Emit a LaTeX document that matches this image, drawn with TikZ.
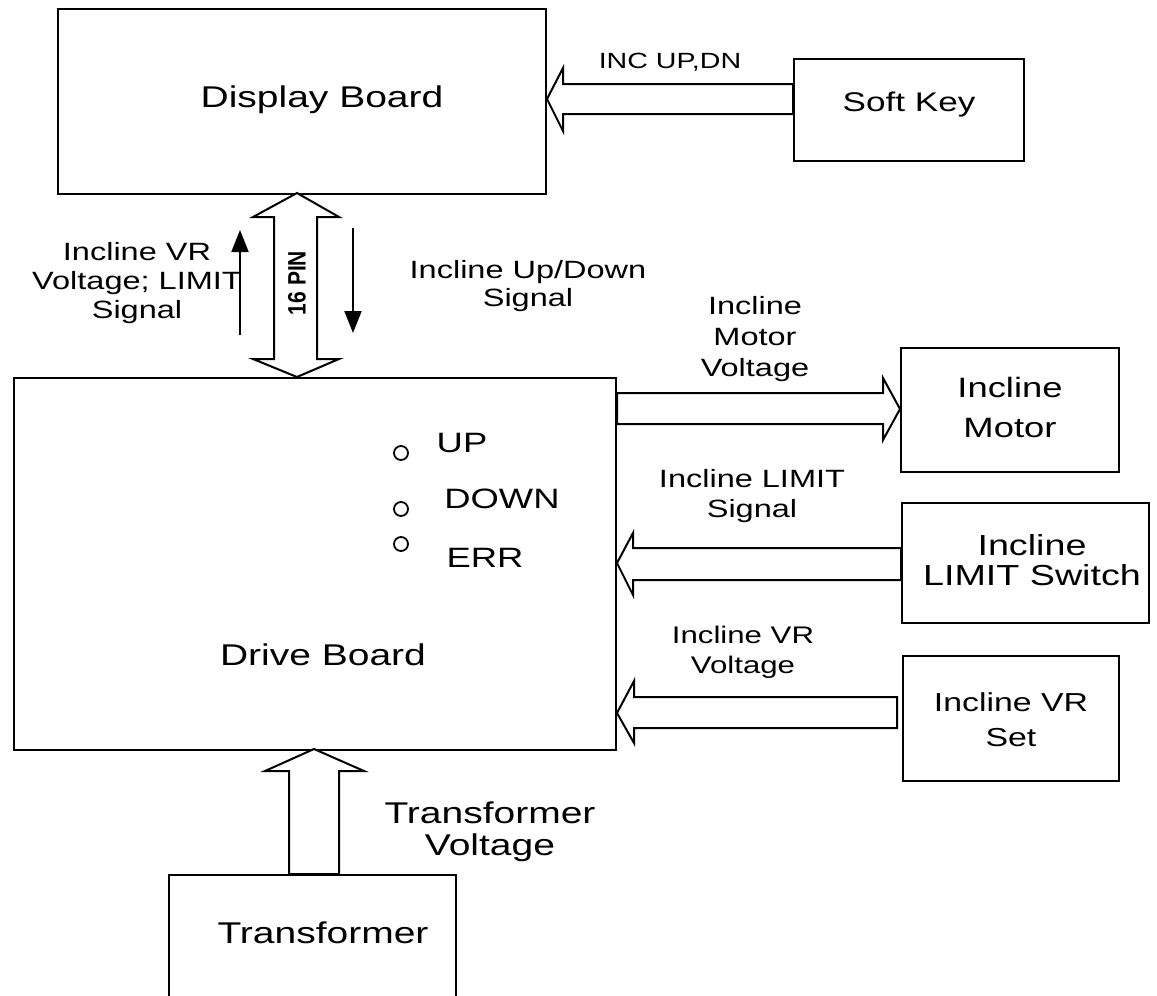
\documentclass[tikz,border=0pt]{standalone}
\usepackage{fontspec}
\setmainfont{Liberation Sans}[FakeStretch=1.3]
\newfontfamily\pinfont{Liberation Sans}
\usetikzlibrary{arrows.meta}
\newcommand\fsz[2]{\fontsize{#1}{#2}\selectfont}
\begin{document}
\begin{tikzpicture}[x=1pt,y=-1pt,
  box/.style={draw, line width=2pt, inner sep=0pt, anchor=north west},
  lbl/.style={align=center, inner sep=0pt},
  blk/.style={draw, line width=2pt, fill=white, line join=miter},
  sig/.style={line width=2pt, -{Triangle[length=22pt,width=17pt]}},
  led/.style={circle, draw, line width=1.8pt, minimum size=14pt, inner sep=0pt}]
\useasboundingbox (0,0) rectangle (1157,996);
% boxes
\node[box, minimum width=488pt, minimum height=185pt] (display) at (57,8) {};
\node[box, minimum width=230pt, minimum height=102pt] (softkey) at (793,58) {};
\node[box, minimum width=602pt, minimum height=372pt] (drive) at (13,377) {};
\node[box, minimum width=218pt, minimum height=124pt] (motor) at (900,347) {};
\node[box, minimum width=247pt, minimum height=120pt] (limit) at (901,502) {};
\node[box, minimum width=216pt, minimum height=125pt] (vr) at (902,655) {};
\node[box, minimum width=287pt, minimum height=140pt] (trans) at (168,874) {};
% block arrows
\draw[blk] (display.east |- 0,99) -- (563,68) -- (563,84) -- (softkey.west |- 0,84)
  -- (softkey.west |- 0,114) -- (563,114) -- (563,131) -- cycle;
\draw[blk] (297,193) -- (339,217) -- (317,217) -- (317,359) -- (339,359) -- (297,377)
  -- (253,359) -- (274,359) -- (274,217) -- (253,217) -- cycle;
\draw[blk] (motor.west |- 0,409) -- (883,378) -- (883,393) -- (drive.east |- 0,393)
  -- (drive.east |- 0,424) -- (883,424) -- (883,440) -- cycle;
\draw[blk] (drive.east |- 0,563) -- (633,533) -- (633,548) -- (limit.west |- 0,548)
  -- (limit.west |- 0,580) -- (633,580) -- (633,595) -- cycle;
\draw[blk] (drive.east |- 0,713) -- (634,681) -- (634,697) -- (897,697)
  -- (897,728) -- (634,728) -- (634,743) -- cycle;
\draw[blk] (314,749) -- (364,771) -- (339,771) -- (339,874) -- (289,874) -- (289,771)
  -- (265,771) -- cycle;
% signal arrows
\coordinate (upA) at (240,335); \coordinate (upB) at (240,230);
\coordinate (dnA) at (353,228); \coordinate (dnB) at (353,333);
\draw[sig] (upA) -- (upB);
\draw[sig] (dnA) -- (dnB);
% texts
\node[lbl, font=\fsz{30}{34}] (tdisplay) at (322,100) {Display Board};
\node[lbl, font=\fsz{27}{32}] (tsoft) at (909,105) {Soft Key};
\node[lbl, font=\fsz{22}{26}] (tinc) at (670,62) {INC UP,DN};
\node[lbl, font=\fsz{25}{29}] (tleft) at (137,283) {Incline VR\\Voltage; LIMIT\\Signal};
\node[lbl, font=\fsz{25}{28}] (tupdn) at (528,286) {Incline Up/Down\\Signal};
\node[lbl, font=\fsz{25}{31}] (tmv) at (755,339) {Incline\\Motor\\Voltage};
\node[lbl, font=\fsz{25}{30}] (tls) at (752,496) {Incline LIMIT\\Signal};
\node[lbl, font=\fsz{24}{30}] (tvrv) at (743,652) {Incline VR\\Voltage};
\node[lbl, font=\fsz{30}{32}] (ttv) at (490,832) {Transformer\\Voltage};
\node[lbl, font=\fsz{28}{40}] (tmotor) at (1010,407) {Incline\\Motor};
\node[lbl, font=\fsz{29}{30}] (tlimit) at (1032,560) {Incline\\LIMIT Switch};
\node[lbl, font=\fsz{26}{35}] (tvr) at (1011,720) {Incline VR\\Set};
\node[lbl, font=\fsz{30}{34}] (tdrive) at (323,655) {Drive Board};
\node[lbl, font=\fsz{30}{34}] (ttrans) at (323,933) {Transformer};
\node[lbl, font=\fsz{28}{32}] (tup) at (462,443) {UP};
\node[lbl, font=\fsz{28}{32}] (tdown) at (502,499) {DOWN};
\node[lbl, font=\fsz{28}{32}] (terr) at (485,558) {ERR};
\node[led] (led1) at (401,453) {};
\node[led] (led2) at (401,509) {};
\node[led] (led3) at (401,544) {};
\node[lbl, rotate=90, font=\pinfont\bfseries\fsz{21}{24}] (pin) at (297,283) {\scalebox{1}[1.2]{16 PIN}};
\end{tikzpicture}
\end{document}
